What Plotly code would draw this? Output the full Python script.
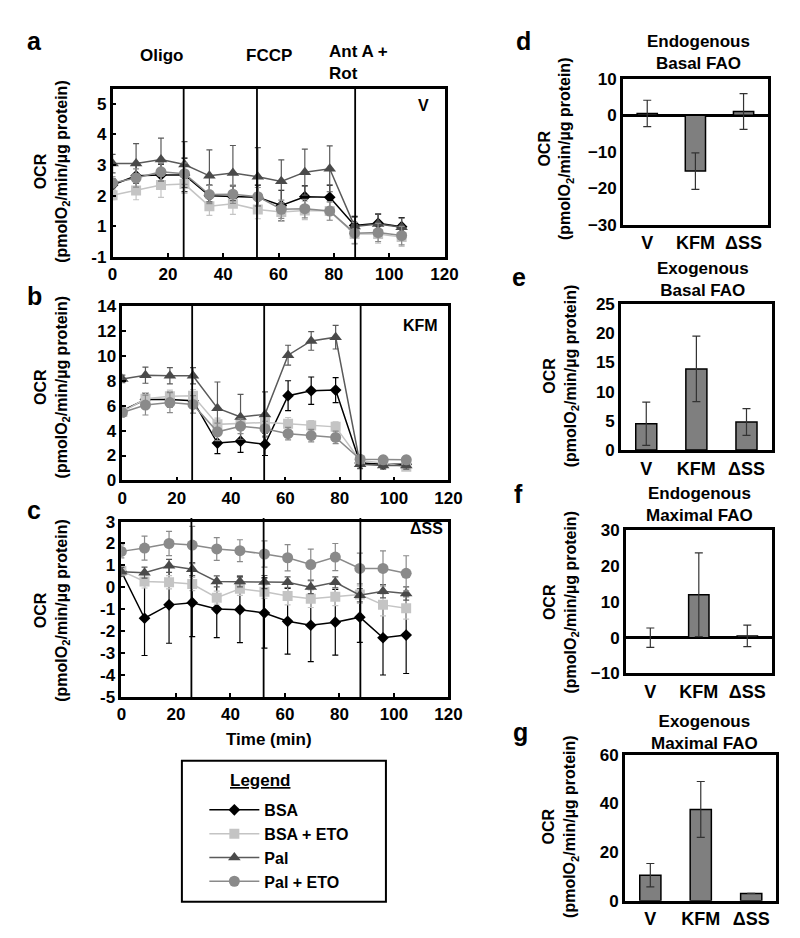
import plotly.graph_objects as go

W, H = 800, 938
FONT = "Liberation Sans"

# ---------------- data ----------------
time_min = [0, 8.5, 17.5, 26, 35, 43.5, 52.5, 61, 69.5, 78.5, 87.5, 96, 104.5]
injections = [25.7, 52.2, 87.7]
injection_labels = ["Oligo", "FCCP", "Ant A +<br>Rot"]
series_names = ["BSA", "BSA + ETO", "Pal", "Pal + ETO"]

# panel a (V)
bsa_a = [2.35, 2.65, 2.68, 2.68, 2.0, 1.97, 1.95, 1.68, 1.97, 1.95, 1.03, 1.1, 0.99]
bsa_a_err = [0.2, 0.35, 0.35, 0.55, 0.35, 0.35, 0.4, 0.5, 0.35, 0.4, 0.3, 0.3, 0.3]
bsaeto_a = [2.02, 2.17, 2.35, 2.38, 1.66, 1.74, 1.55, 1.47, 1.52, 1.5, 0.75, 0.75, 0.65]
bsaeto_a_err = [0.15, 0.3, 0.4, 0.3, 0.3, 0.35, 0.3, 0.3, 0.3, 0.3, 0.3, 0.3, 0.3]
pal_a = [3.05, 3.05, 3.18, 3.02, 2.65, 2.74, 2.62, 2.47, 2.77, 2.88, 1.0, 1.08, 0.97]
pal_a_err = [0.3, 0.65, 0.7, 0.75, 0.85, 0.9, 0.95, 0.7, 0.75, 0.75, 0.3, 0.33, 0.3]
paleto_a = [2.42, 2.58, 2.78, 2.72, 2.04, 2.05, 1.97, 1.56, 1.58, 1.5, 0.78, 0.8, 0.7]
paleto_a_err = [0.2, 0.3, 0.3, 0.35, 0.3, 0.3, 0.3, 0.3, 0.3, 0.3, 0.35, 0.3, 0.3]

# panel b (KFM)
bsa_b = [5.6, 6.5, 6.5, 6.4, 3.0, 3.15, 2.9, 6.8, 7.2, 7.25, 1.4, 1.3, 1.3]
bsa_b_err = [0.3, 0.5, 0.6, 0.6, 0.85, 0.9, 0.9, 1.2, 1.1, 1.0, 0.3, 0.3, 0.3]
bsaeto_b = [5.5, 6.55, 6.75, 6.8, 4.5, 4.55, 4.65, 4.55, 4.4, 4.3, 1.6, 1.4, 1.1]
bsaeto_b_err = [0.3, 0.5, 0.5, 0.5, 0.5, 0.5, 0.5, 0.5, 0.4, 0.4, 0.3, 0.3, 0.3]
pal_b = [8.15, 8.45, 8.4, 8.4, 5.8, 5.1, 5.3, 10.05, 11.2, 11.5, 1.3, 1.2, 1.2]
pal_b_err = [0.3, 0.65, 0.65, 0.65, 2.1, 1.8, 1.8, 0.8, 0.75, 0.95, 0.35, 0.3, 0.3]
paleto_b = [5.45, 6.05, 6.25, 6.1, 3.9, 4.35, 4.15, 3.75, 3.6, 3.45, 1.7, 1.65, 1.65]
paleto_b_err = [0.3, 0.8, 0.8, 0.7, 0.7, 0.6, 0.6, 0.5, 0.5, 0.5, 0.3, 0.3, 0.3]

# panel c (ΔSS)
bsa_c = [0.72, -1.41, -0.8, -0.7, -0.99, -1.02, -1.17, -1.55, -1.73, -1.59, -1.36, -2.3, -2.18]
bsa_c_err = [0.2, 1.7, 1.75, 1.55, 1.3, 1.5, 1.6, 1.5, 1.66, 1.5, 1.15, 1.7, 1.75]
bsaeto_c = [0.75, 0.27, 0.23, 0.15, -0.47, -0.07, -0.2, -0.4, -0.52, -0.43, -0.33, -0.8, -0.95]
bsaeto_c_err = [0.2, 0.3, 0.3, 0.3, 0.3, 0.3, 0.3, 0.4, 0.4, 0.4, 0.4, 0.5, 0.5]
pal_c = [0.71, 0.67, 0.98, 0.83, 0.27, 0.27, 0.24, 0.23, 0.01, 0.23, -0.36, -0.18, -0.28]
pal_c_err = [0.2, 0.25, 0.3, 0.3, 0.25, 0.25, 0.3, 0.25, 0.3, 0.25, 0.3, 0.3, 0.3]
paleto_c = [1.64, 1.79, 2.0, 1.93, 1.75, 1.67, 1.52, 1.35, 1.04, 1.38, 0.86, 0.86, 0.64]
paleto_c_err = [0.3, 0.55, 0.55, 0.85, 0.52, 0.5, 0.6, 0.6, 0.7, 0.62, 0.7, 0.8, 0.8]

# bar panels
strains = ["V", "KFM", "ΔSS"]
endo_basal = [0.5, -15.3, 1.0]
endo_basal_err = [3.6, 5.0, 4.9]
exo_basal = [4.5, 13.9, 4.8]
exo_basal_err = [3.7, 5.6, 2.3]
endo_max = [0.0, 12.0, 0.5]
endo_max_err = [2.7, 11.7, 3.0]
exo_max = [10.5, 37.5, 3.0]
exo_max_err = [4.8, 11.5, 0.0]

# ---------------- helpers ----------------
def px(x):
    return x / W

def py(y):
    return 1 - y / H

styles = [
    dict(color="#000000", line="#000000", symbol="diamond", size=9),
    dict(color="#c4c4c4", line="#c4c4c4", symbol="square", size=10),
    dict(color="#4a4a4a", line="#5a5a5a", symbol="triangle-up", size=11),
    dict(color="#8a8a8a", line="#8a8a8a", symbol="circle", size=11),
]

fig = go.Figure()

ts_panels = [
    ("x", "y", [bsa_a, bsaeto_a, pal_a, paleto_a], [bsa_a_err, bsaeto_a_err, pal_a_err, paleto_a_err], True),
    ("x2", "y2", [bsa_b, bsaeto_b, pal_b, paleto_b], [bsa_b_err, bsaeto_b_err, pal_b_err, paleto_b_err], False),
    ("x3", "y3", [bsa_c, bsaeto_c, pal_c, paleto_c], [bsa_c_err, bsaeto_c_err, pal_c_err, paleto_c_err], False),
]

for xa, ya, vals, errs, show in ts_panels:
    for name, v, e, st in zip(series_names, vals, errs, styles):
        fig.add_trace(go.Scatter(
            x=time_min, y=v, name=name, xaxis=xa, yaxis=ya,
            mode="lines+markers", legendgroup=name, showlegend=show,
            line=dict(color=st["line"], width=1.5),
            marker=dict(symbol=st["symbol"], size=st["size"], color=st["color"]),
            error_y=dict(type="data", array=e, visible=True, color=st["line"],
                         thickness=1.2, width=3),
        ))

bar_panels = [
    ("x4", "y4", endo_basal, endo_basal_err),
    ("x5", "y5", exo_basal, exo_basal_err),
    ("x6", "y6", endo_max, endo_max_err),
    ("x7", "y7", exo_max, exo_max_err),
]
for xa, ya, v, e in bar_panels:
    fig.add_trace(go.Bar(
        x=strains, y=v, xaxis=xa, yaxis=ya, showlegend=False,
        marker=dict(color="#7f7f7f", line=dict(color="#000000", width=1.5)),
        width=0.42,
        error_y=dict(type="data", array=e, visible=True, color="#333333",
                     thickness=1.2, width=4),
    ))

tickfont = dict(family=FONT, size=17, color="black", weight="bold")

def ts_axes(xdom, ydom, yrange, ytickvals, yticktext):
    xa = dict(domain=xdom, range=[0, 120], tickvals=[0, 20, 40, 60, 80, 100, 120],
              ticks="inside", ticklen=4, tickwidth=1.5, tickcolor="black",
              showline=True, mirror=True, linewidth=2.5, linecolor="black",
              showgrid=False, zeroline=False, tickfont=tickfont, fixedrange=True)
    ya = dict(domain=ydom, range=yrange, tickvals=ytickvals, ticktext=yticktext,
              ticks="inside", ticklen=4, tickwidth=1.5, tickcolor="black",
              showline=True, mirror=True, linewidth=2.5, linecolor="black",
              showgrid=False, zeroline=False, tickfont=tickfont, fixedrange=True)
    return xa, ya

def bar_axes(xdom, ydom, yrange, dtick, zeroline):
    xa = dict(domain=xdom, type="category", range=[-0.5, 2.5], ticks="",
              showline=True, mirror=True, linewidth=3, linecolor="black",
              showgrid=False, zeroline=False,
              tickfont=dict(family=FONT, size=18, color="black", weight="bold"))
    ya = dict(domain=ydom, range=yrange, dtick=dtick, ticks="",
              showline=True, mirror=True, linewidth=3, linecolor="black",
              showgrid=False, zeroline=zeroline, zerolinecolor="black", zerolinewidth=3,
              tickfont=dict(family=FONT, size=17, color="black", weight="bold"))
    return xa, ya

layout_axes = {}
a_x, a_y = ts_axes([px(102), px(442)], [py(245), py(73)], [0, 5.5],
                   [0, 1, 2, 3, 4, 5], ["-1", "1", "2", "3", "4", "5"])
b_x, b_y = ts_axes([px(112), px(446)], [py(473), py(295)], [0, 14],
                   list(range(0, 15, 2)), [str(v) for v in range(0, 15, 2)])
c_x, c_y = ts_axes([px(111), px(446)], [py(694), py(515)], [-5, 3],
                   list(range(-5, 4)), [str(v) for v in range(-5, 4)])
layout_axes.update(xaxis=a_x, yaxis=a_y, xaxis2=b_x, yaxis2=b_y, xaxis3=c_x, yaxis3=c_y)
layout_axes["xaxis2"]["anchor"] = "y2"; layout_axes["yaxis2"]["anchor"] = "x2"
layout_axes["xaxis3"]["anchor"] = "y3"; layout_axes["yaxis3"]["anchor"] = "x3"

d_x, d_y = bar_axes([px(625), px(773)], [py(212), py(63)], [-30, 10], 10, True)
e_x, e_y = bar_axes([px(623), px(777)], [py(442), py(293)], [0, 25], 5, False)
f_x, f_y = bar_axes([px(628), px(777)], [py(670), py(524)], [-10, 30], 10, True)
g_x, g_y = bar_axes([px(627), px(782)], [py(902), py(753)], [0, 60], 20, False)
for i, (bx, by) in zip(range(4, 8), [(d_x, d_y), (e_x, e_y), (f_x, f_y), (g_x, g_y)]):
    bx["anchor"] = f"y{i}"
    by["anchor"] = f"x{i}"
    layout_axes[f"xaxis{i}"] = bx
    layout_axes[f"yaxis{i}"] = by

# injection lines
shapes = []
for xr, yr, top in (("x", "y domain", 1.0), ("x2", "y2 domain", 1.0), ("x3", "y3 domain", 1.02)):
    for t in injections:
        shapes.append(dict(type="line", xref=xr, yref=yr, x0=t, x1=t, y0=0, y1=top,
                           line=dict(color="black", width=1.8)))

# legend box
shapes.append(dict(type="rect", xref="paper", yref="paper",
                   x0=px(173), x1=px(382), y0=py(903), y1=py(759),
                   line=dict(color="black", width=2)))

def bold(size):
    return dict(family=FONT, size=size, color="black", weight="bold")

annotations = []

def ann(text, x, y, size=17, xanchor="center", align="center", angle=0):
    annotations.append(dict(text=text, x=px(x), y=py(y), xref="paper", yref="paper",
                            showarrow=False, xanchor=xanchor, yanchor="middle",
                            align=align, textangle=angle, font=bold(size)))

# panel letters
for letter, (lx, ly) in zip("abcdefg", [(22, 25), (22, 285), (22, 503), (523, 25),
                                         (518, 265), (518, 487), (520, 730)]):
    ann(letter, lx, ly, size=25)

# injection labels
ann(injection_labels[0], 152, 39)
ann(injection_labels[1], 262, 39)
ann(injection_labels[2], 322, 46, xanchor="left", align="left")

# strain labels inside time-course panels
ann("V", 413, 90, size=16, xanchor="left")
ann("KFM", 397, 315, size=16, xanchor="left")
ann("ΔSS", 405, 522, size=16, xanchor="left")

ann("Time (min)", 262, 737)

ytitle = "OCR<br>(pmolO<sub>2</sub>/min/µg protein)"
for (x, y) in [(40, 158), (40, 378), (40, 606), (556, 134), (561, 366), (561, 597), (561, 826)]:
    ann(ytitle, x, y, size=16, angle=-90)

ann("Endogenous<br>Basal FAO", 702, 36)
ann("Exogenous<br>Basal FAO", 707, 268)
ann("Endogenous<br>Maximal FAO", 703, 498)
ann("Exogenous<br>Maximal FAO", 708, 730)

ann("<u>Legend</u>", 253, 779)

fig.update_layout(
    width=W, height=H, margin=dict(l=0, r=0, t=0, b=0),
    paper_bgcolor="white", plot_bgcolor="white",
    shapes=shapes, annotations=annotations,
    legend=dict(x=px(196), y=py(792), xanchor="left", yanchor="top",
                bgcolor="rgba(0,0,0,0)", borderwidth=0, itemwidth=50,
                font=bold(16), tracegroupgap=0, itemclick=False),
    **layout_axes,
)

fig.write_html("out.html")
